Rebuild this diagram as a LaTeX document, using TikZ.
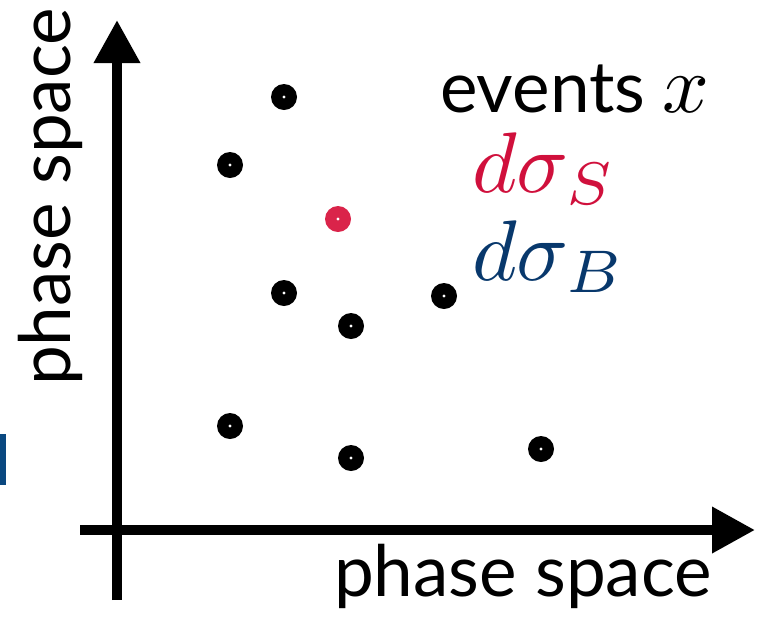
\documentclass[tikz,border=0pt]{standalone}
\usepackage{fontspec}
\setmainfont{Lato}
\usetikzlibrary{arrows.meta}
\definecolor{sred}{RGB}{208,16,60}
\definecolor{dotred}{RGB}{218,36,74}
\definecolor{bblue}{RGB}{8,56,108}
\definecolor{barblue}{RGB}{10,72,128}
\tikzset{
  axis/.style={line width=10pt,-{Triangle[width=44pt,length=43pt]}},
  evdot/.style={circle,inner sep=0pt,minimum size=26pt,fill=black,
    path picture={\fill[white] (path picture bounding box.center) circle (1.7pt);}},
  sigdot/.style={evdot,fill=dotred},
  lbl/.style={inner sep=0pt,font=\fontsize{71}{75}\selectfont},
  mlbl/.style={inner sep=0pt,anchor=base west},
}
\begin{document}
\begin{tikzpicture}[x=1pt,y=-1pt]
\useasboundingbox (0,0) rectangle (767,622);
\fill[barblue] (0,434) rectangle (6,485);
\coordinate (yb) at (117,600);
\coordinate (yt) at (117,20);
\coordinate (xl) at (80,530);
\coordinate (xr) at (755,530);
\draw[axis] (yb) -- (yt);
\draw[axis] (xl) -- (xr);
\node[evdot] (d1) at (284,97) {};
\node[evdot] (d2) at (230,165) {};
\node[sigdot] (d3) at (338,219) {};
\node[evdot] (d4) at (284,293) {};
\node[evdot] (d5) at (444,296) {};
\node[evdot] (d6) at (351,326) {};
\node[evdot] (d7) at (230,426) {};
\node[evdot] (d8) at (351,458) {};
\node[evdot] (d9) at (541,449) {};
\node[lbl,rotate=90] (ylab) at (50,197) {phase space};
\node[lbl,anchor=base] (xlab) at (523,596) {phase space};
\node[lbl,anchor=base west] (ev) at (440,112) {events};
\node[mlbl] (evx) at (662,112) {\scalebox{8.2}{\normalsize$x$}};
\node[mlbl,text=sred] (sigs) at (472,192) {\scalebox{8.6}{\normalsize$d\sigma_S$}};
\node[mlbl,text=bblue] (sigb) at (472,280) {\scalebox{8.6}{\normalsize$d\sigma_B$}};
\end{tikzpicture}
\end{document}
